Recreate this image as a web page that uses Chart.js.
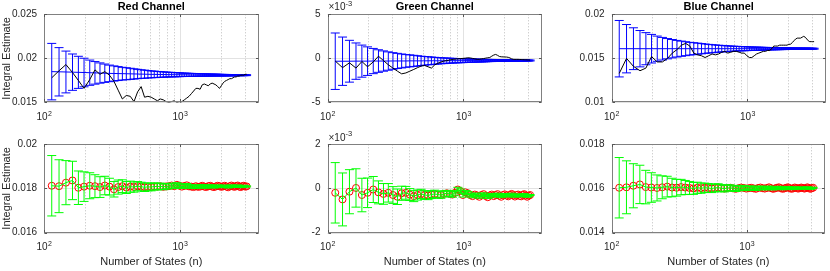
<!DOCTYPE html>
<html>
<head>
<meta charset="utf-8">
<script src="https://cdn.jsdelivr.net/npm/chart.js@4.4.0/dist/chart.umd.min.js"></script>
<style>
  body { margin: 0; background: #fff; }
  #wrap { position: relative; width: 830px; height: 271px; }
  #wrap canvas { position: absolute; left: 0; top: 0; }
</style>
</head>
<body>
<div id="wrap">
  <canvas id="c0" width="830" height="271"></canvas>
  <canvas id="c1" width="830" height="271"></canvas>
  <canvas id="c2" width="830" height="271"></canvas>
  <canvas id="c3" width="830" height="271"></canvas>
  <canvas id="c4" width="830" height="271"></canvas>
  <canvas id="c5" width="830" height="271"></canvas>
</div>
<script>
// number of states (x values, shared by every panel)
const states = [114,129,145,162,179,197,217,237,258,280,303,327,351,377,403,431,459,488,518,549,
  581,614,647,682,717,754,791,829,868,908,949,990,1033,1076,1121,1166,1212,1260,1308,1356,
  1406,1457,1509,1561,1614,1669,1724,1780,1837,1895,1954,2013,2074,2135,2198,2261,2325,2390,2456,2523,
  2591,2659,2729,2799,2871,2943,3016,3090];

// error bar half widths (same in all channels)
const sigmaTop = [0.00320,0.00274,0.00237,0.00206,0.00182,0.00162,0.00143,0.00128,0.00115,0.00104,
  0.00094,0.00086,0.00079,0.00072,0.00068,0.00063,0.00058,0.00053,0.00049,0.00046,
  0.00042,0.00039,0.00037,0.00034,0.00032,0.00030,0.00028,0.00027,0.00025,0.00024,
  0.00023,0.00022,0.00020,0.00019,0.00018,0.00018,0.00017,0.00016,0.00015,0.00015,
  0.00014,0.00013,0.00013,0.00012,0.00012,0.00011,0.00011,0.00010,0.00010,0.000095,
  0.000092,0.000088,0.000085,0.000082,0.000079,0.000076,0.000074,0.000071,0.000069,0.000067,
  0.000064,0.000062,0.000060,0.000059,0.000057,0.000055,0.000053,0.000052];
const sigmaBottom = [0.00137,0.00120,0.00100,0.00087,0.00076,0.00067,0.00059,0.00052,0.00047,0.00042,
  0.00038,0.00035,0.00032,0.00029,0.00027,0.00025,0.00023,0.00021,0.00020,0.00019,
  0.00018,0.00017,0.00016,0.00015,0.00014,0.00013,0.00012,0.00012,0.00011,0.00010,
  0.000097,0.000092,0.000087,0.000083,0.000079,0.000075,0.000072,0.000068,0.000065,0.000062,
  0.000060,0.000057,0.000055,0.000052,0.000050,0.000048,0.000046,0.000044,0.000043,0.000041,
  0.000039,0.000038,0.000037,0.000035,0.000034,0.000033,0.000032,0.000031,0.000030,0.000029,
  0.000028,0.000027,0.000026,0.000025,0.000024,0.000024,0.000023,0.000022];

// top row: error bar centres (blue) and single estimate (black)
const meanRed = [0.01850,0.01848,0.01846,0.01844,0.01842,0.01840,0.01838,0.01836,0.01834,0.01832,
  0.01830,0.01829,0.01828,0.01827,0.01826,0.01825,0.01824,0.01823,0.01822,0.01821,
  0.01820,0.01819,0.01819,0.01818,0.01818,0.01817,0.01817,0.01816,0.01816,0.01815,
  0.01815,0.01815,0.01814,0.01814,0.01814,0.01813,0.01813,0.01813,0.01813,0.01812,
  0.01812,0.01812,0.01812,0.01812,0.01811,0.01811,0.01811,0.01811,0.01811,0.01811,
  0.01810,0.01810,0.01810,0.01810,0.01810,0.01810,0.01810,0.01810,0.01810,0.01810,
  0.01810,0.01810,0.01810,0.01810,0.01810,0.01810,0.01810,0.01810];
const estRed = [0.0178,0.0186,0.0193,0.0184,0.0175,0.0166,0.0176,0.0187,0.0182,0.0185,
  0.0181,0.0174,0.0164,0.0154,0.0158,0.0157,0.0151,0.0162,0.0168,0.0156,
  0.0157,0.0156,0.0154,0.0152,0.0154,0.0153,0.0151,0.0150,0.0151,0.0152,
  0.0150,0.0149,0.0151,0.0153,0.0155,0.0157,0.0160,0.0163,0.0166,0.0166,
  0.0165,0.0170,0.0171,0.0170,0.0169,0.0171,0.0172,0.0171,0.0170,0.0168,
  0.0166,0.0169,0.0172,0.0174,0.0175,0.0176,0.0177,0.0177,0.0178,0.0179,
  0.0179,0.0180,0.0180,0.0181,0.0181,0.0181,0.0182,0.0182];

// green channel values are in units of 1e-3
const meanGreen = [-0.32,-0.32,-0.32,-0.31,-0.31,-0.31,-0.30,-0.30,-0.30,-0.30,
  -0.29,-0.29,-0.29,-0.29,-0.28,-0.28,-0.28,-0.28,-0.28,-0.27,
  -0.27,-0.27,-0.27,-0.27,-0.27,-0.26,-0.26,-0.26,-0.26,-0.26,
  -0.26,-0.26,-0.25,-0.25,-0.25,-0.25,-0.25,-0.25,-0.25,-0.25,
  -0.25,-0.25,-0.24,-0.24,-0.24,-0.24,-0.24,-0.24,-0.24,-0.24,
  -0.24,-0.24,-0.24,-0.24,-0.24,-0.24,-0.24,-0.24,-0.24,-0.24,
  -0.24,-0.24,-0.24,-0.24,-0.24,-0.24,-0.24,-0.24];
const estGreen = [-0.30,-1.05,-0.50,-1.10,-0.35,-0.95,-0.40,0.25,-0.25,-0.72,
  -1.10,-1.45,-1.75,-1.65,-1.45,-1.25,-1.05,-0.87,-0.80,-0.95,
  -1.10,-0.75,-0.55,-0.42,-0.30,-0.25,-0.18,-0.12,-0.08,-0.05,
  -0.02,0.00,0.03,0.07,0.05,0.00,-0.05,-0.10,-0.10,-0.05,
  -0.02,0.03,0.07,0.10,0.25,0.38,0.45,0.35,0.22,0.18,
  0.17,0.16,0.15,0.12,0.05,-0.05,-0.10,-0.11,-0.11,-0.11,
  -0.12,-0.13,-0.14,-0.15,-0.16,-0.17,-0.18,-0.19];

const meanBlue = [0.0161,0.0161,0.0161,0.0161,0.0161,0.0161,0.0161,0.0161,0.0161,0.0161,
  0.0161,0.0161,0.0161,0.0161,0.0161,0.0161,0.0161,0.0161,0.0161,0.0161,
  0.0161,0.0161,0.0161,0.0161,0.0161,0.0161,0.0161,0.0161,0.0161,0.0161,
  0.0161,0.0161,0.0161,0.0161,0.0161,0.0161,0.0161,0.0161,0.0161,0.0161,
  0.0161,0.0161,0.0161,0.0161,0.0161,0.0161,0.0161,0.0161,0.0161,0.0161,
  0.0161,0.0161,0.0161,0.0161,0.0161,0.0161,0.0161,0.0161,0.0161,0.0161,
  0.0161,0.0161,0.0161,0.0161,0.0161,0.0161,0.0161,0.0161];
const estBlue = [0.0133,0.0150,0.0141,0.0136,0.0139,0.0152,0.0146,0.0146,0.0150,0.0156,
  0.0160,0.0165,0.0167,0.0164,0.0156,0.0154,0.0153,0.0151,0.0153,0.0155,
  0.0154,0.0155,0.0157,0.0158,0.0156,0.0157,0.0158,0.0158,0.0157,0.0156,
  0.0156,0.0153,0.0151,0.0151,0.0153,0.0155,0.0156,0.0157,0.0158,0.0158,
  0.0159,0.0159,0.0161,0.0164,0.0164,0.0164,0.0165,0.0165,0.0165,0.0165,
  0.0165,0.0166,0.0166,0.0168,0.0170,0.0172,0.0173,0.0173,0.0173,0.0174,
  0.0175,0.0174,0.0172,0.0170,0.0169,0.0169,0.0169,0.0169];

// bottom row: running estimates (red circles, green error bars)
const runRed = [0.01812,0.01810,0.01826,0.01836,0.01803,0.01808,0.01812,0.01810,0.01806,0.01813,
  0.01808,0.01796,0.01806,0.01810,0.01804,0.01808,0.01806,0.01810,0.01808,0.01805,
  0.01807,0.01806,0.01809,0.01808,0.01810,0.01807,0.01809,0.01810,0.01813,0.01810,
  0.01816,0.01812,0.01808,0.01811,0.01814,0.01809,0.01808,0.01806,0.01810,0.01807,
  0.01808,0.01812,0.01808,0.01806,0.01810,0.01812,0.01808,0.01806,0.01809,0.01812,
  0.01810,0.01807,0.01809,0.01812,0.01808,0.01805,0.01810,0.01813,0.01809,0.01807,
  0.01811,0.01813,0.01808,0.01806,0.01810,0.01812,0.01808,0.01809];
const runGreen = [-0.20,-0.50,-0.15,0.02,-0.30,-0.20,-0.05,-0.18,-0.25,-0.20,
  -0.30,-0.38,-0.22,-0.20,-0.28,-0.35,-0.30,-0.25,-0.30,-0.32,
  -0.28,-0.25,-0.28,-0.30,-0.25,-0.22,-0.25,-0.28,-0.20,-0.05,
  -0.12,-0.30,-0.18,-0.22,-0.30,-0.35,-0.28,-0.32,-0.38,-0.30,
  -0.26,-0.34,-0.40,-0.32,-0.28,-0.35,-0.30,-0.26,-0.33,-0.38,
  -0.30,-0.27,-0.32,-0.36,-0.29,-0.25,-0.31,-0.37,-0.30,-0.28,
  -0.34,-0.36,-0.29,-0.26,-0.32,-0.38,-0.33,-0.30];
const runBlue = [0.01603,0.01605,0.01612,0.01618,0.01606,0.01604,0.01602,0.01605,0.01608,0.01604,
  0.01603,0.01606,0.01604,0.01602,0.01600,0.01603,0.01601,0.01603,0.01602,0.01600,
  0.01602,0.01604,0.01601,0.01599,0.01602,0.01603,0.01600,0.01598,0.01601,0.01604,
  0.01602,0.01599,0.01601,0.01603,0.01600,0.01598,0.01602,0.01604,0.01601,0.01599,
  0.01602,0.01605,0.01601,0.01598,0.01600,0.01603,0.01605,0.01601,0.01598,0.01600,
  0.01603,0.01605,0.01601,0.01598,0.01600,0.01604,0.01602,0.01599,0.01601,0.01604,
  0.01602,0.01599,0.01601,0.01605,0.01602,0.01598,0.01601,0.01603];

const titles = ['Red Channel', 'Green Channel', 'Blue Channel'];
const xTickValues = [100, 1000];
const xTickBase = ['10', '10'];
const xTickPower = ['2', '3'];
const xMinorGrid = [200, 300, 400, 500, 600, 700, 800, 900, 2000, 3000];
const GREEN_UNIT = 1e-3;

// layout of the six axes (pixels)
const plotLefts = [44, 327.5, 611.5];
const plotWidth = 214.5;
const plotTops = [14.3, 144.3];
const plotHeight = 88.2;
const Y_AXIS_W = 44;
const CAP = 4.5;
const FONT = '"Liberation Sans", Arial, Helvetica, sans-serif';

Chart.defaults.font.family = FONT;
Chart.defaults.color = '#262626';

const matlabAxes = {
  id: 'matlabAxes',
  beforeDatasetsDraw(chart) {
    const { ctx, chartArea: a, scales: { x, y } } = chart;
    const p = chart.options.plugins.matlabAxes;
    ctx.save();
    ctx.lineWidth = 1;
    ctx.strokeStyle = '#bdbdbd';
    ctx.setLineDash([1, 2]);
    ctx.beginPath();
    xMinorGrid.forEach(v => {
      const px = Math.round(x.getPixelForValue(v)) + 0.5;
      ctx.moveTo(px, a.top); ctx.lineTo(px, a.bottom);
    });
    ctx.stroke();
    ctx.setLineDash([]);
    ctx.strokeStyle = '#e2e2e2';
    ctx.beginPath();
    xTickValues.forEach(v => {
      const px = Math.round(x.getPixelForValue(v)) + 0.5;
      ctx.moveTo(px, a.top); ctx.lineTo(px, a.bottom);
    });
    p.yTicks.forEach(v => {
      const py = Math.round(y.getPixelForValue(v)) + 0.5;
      ctx.moveTo(a.left, py); ctx.lineTo(a.right, py);
    });
    ctx.stroke();
    ctx.restore();
  },
  afterDatasetDraw(chart, args) {
    const ds = chart.data.datasets[args.index];
    if (!ds.errors) return;
    const { ctx, scales: { x, y } } = chart;
    ctx.save();
    ctx.strokeStyle = ds.borderColor;
    ctx.lineWidth = 1;
    ctx.beginPath();
    ds.data.forEach((pt, i) => {
      const px = x.getPixelForValue(pt.x);
      const top = y.getPixelForValue(pt.y + ds.errors[i]);
      const bot = y.getPixelForValue(pt.y - ds.errors[i]);
      ctx.moveTo(px, top); ctx.lineTo(px, bot);
      ctx.moveTo(px - CAP, top); ctx.lineTo(px + CAP, top);
      ctx.moveTo(px - CAP, bot); ctx.lineTo(px + CAP, bot);
    });
    ctx.stroke();
    ctx.restore();
  },
  afterDraw(chart) {
    const { ctx, chartArea: a, scales: { x, y } } = chart;
    const p = chart.options.plugins.matlabAxes;
    const l = Math.round(a.left) + 0.5, r = Math.round(a.right) - 0.5;
    const t = Math.round(a.top) + 0.5, b = Math.round(a.bottom) - 0.5;
    ctx.save();
    ctx.strokeStyle = '#808080';
    ctx.lineWidth = 1;
    ctx.strokeRect(l, t, r - l, b - t);
    // inward tick marks
    ctx.strokeStyle = '#555';
    ctx.beginPath();
    xTickValues.forEach(v => {
      const px = Math.round(x.getPixelForValue(v)) + 0.5;
      ctx.moveTo(px, b); ctx.lineTo(px, b - 2.5);
      ctx.moveTo(px, t); ctx.lineTo(px, t + 2.5);
    });
    p.yTicks.forEach(v => {
      const py = Math.round(y.getPixelForValue(v)) + 0.5;
      ctx.moveTo(l, py); ctx.lineTo(l + 2.5, py);
      ctx.moveTo(r, py); ctx.lineTo(r - 2.5, py);
    });
    ctx.stroke();

    // x tick labels with raised powers: 10^2, 10^3
    ctx.fillStyle = '#262626';
    ctx.textAlign = 'left';
    ctx.textBaseline = 'alphabetic';
    xTickValues.forEach((v, i) => {
      const px = x.getPixelForValue(v);
      ctx.font = '10px ' + FONT;
      const wb = ctx.measureText(xTickBase[i]).width;
      ctx.font = '7px ' + FONT;
      const wp = ctx.measureText(xTickPower[i]).width;
      const x0 = px - (wb + wp) / 2;
      const base = a.bottom + 17.5;
      ctx.font = '10px ' + FONT;
      ctx.fillText(xTickBase[i], x0, base);
      ctx.font = '7px ' + FONT;
      ctx.fillText(xTickPower[i], x0 + wb + 0.3, base - 4.5);
    });

    ctx.fillStyle = '#000';
    if (p.title) {
      ctx.font = 'bold 11px ' + FONT;
      ctx.textAlign = 'center';
      ctx.fillText(p.title, (a.left + a.right) / 2, a.top - 4);
    }
    if (p.exponent) {
      ctx.fillStyle = '#262626';
      ctx.textAlign = 'left';
      ctx.font = '10px ' + FONT;
      const base = p.row === 0 ? a.top - 4 : a.top - 3.5;
      ctx.fillText('\u00D710', a.left + 1, base);
      const w = ctx.measureText('\u00D710').width;
      ctx.font = '7.5px ' + FONT;
      ctx.fillText('-3', a.left + 1 + w, base - 4.5);
    }
    ctx.restore();
  }
};

const toReal = arr => arr.map(v => v * GREEN_UNIT);
const pts = arr => states.map((n, i) => ({ x: n, y: arr[i] }));

const panels = [
  { row: 0, col: 0, mean: meanRed, est: estRed, yMin: 0.015, yMax: 0.025, yTicks: [0.015, 0.02, 0.025], yLabels: ['0.015', '0.02', '0.025'] },
  { row: 0, col: 1, mean: toReal(meanGreen), est: toReal(estGreen), yMin: -0.005, yMax: 0.005, yTicks: [-0.005, 0, 0.005], yLabels: ['-5', '0', '5'], exponent: true },
  { row: 0, col: 2, mean: meanBlue, est: estBlue, yMin: 0.01, yMax: 0.02, yTicks: [0.01, 0.015, 0.02], yLabels: ['0.01', '0.015', '0.02'] },
  { row: 1, col: 0, est: runRed, yMin: 0.016, yMax: 0.02, yTicks: [0.016, 0.018, 0.02], yLabels: ['0.016', '0.018', '0.02'] },
  { row: 1, col: 1, est: toReal(runGreen), yMin: -0.002, yMax: 0.002, yTicks: [-0.002, 0, 0.002], yLabels: ['-2', '0', '2'], exponent: true },
  { row: 1, col: 2, est: runBlue, yMin: 0.014, yMax: 0.018, yTicks: [0.014, 0.016, 0.018], yLabels: ['0.014', '0.016', '0.018'] }
];

panels.forEach((p, k) => {
  const L = plotLefts[p.col], T = plotTops[p.row];
  const R = L + plotWidth, B = T + plotHeight;
  const HX = p.row === 1 ? 271 - B : 20;
  let datasets;
  if (p.row === 0) {
    datasets = [
      { data: pts(p.est), borderColor: '#000000', borderWidth: 1, pointRadius: 0, tension: 0, order: 1 },
      { data: pts(p.mean), borderColor: '#0000ff', borderWidth: 1, pointRadius: 0, tension: 0, errors: sigmaTop, order: 2 }
    ];
  } else {
    datasets = [
      { data: pts(p.est), borderColor: '#00ff00', borderWidth: 1, pointRadius: 0, tension: 0, errors: sigmaBottom, order: 1 },
      { data: pts(p.est), showLine: false, pointRadius: 3.5, pointBorderWidth: 1, pointBorderColor: '#ff0000', pointBackgroundColor: 'rgba(0,0,0,0)', order: 2 }
    ];
  }
  new Chart(document.getElementById('c' + k), {
    type: 'line',
    data: { datasets },
    plugins: [matlabAxes],
    options: {
      responsive: false,
      animation: false,
      devicePixelRatio: 1,
      layout: { padding: { left: L - Y_AXIS_W, right: 830 - R, top: T, bottom: 271 - B - HX } },
      plugins: {
        legend: { display: false },
        tooltip: { enabled: false },
        matlabAxes: { title: p.row === 0 ? titles[p.col] : '', exponent: !!p.exponent, yTicks: p.yTicks, row: p.row }
      },
      scales: {
        x: {
          type: 'logarithmic',
          min: 100,
          max: 3780,
          afterBuildTicks: s => { s.ticks = xTickValues.map(v => ({ value: v })); },
          afterFit: s => { s.height = HX; },
          grid: { display: false, drawTicks: false },
          border: { display: false },
          ticks: { display: false },
          title: { display: p.row === 1, text: 'Number of States (n)', font: { size: 11 }, padding: { top: 0, bottom: 2.4 } }
        },
        y: {
          type: 'linear',
          min: p.yMin,
          max: p.yMax,
          afterBuildTicks: s => { s.ticks = p.yTicks.map(v => ({ value: v })); },
          afterFit: s => { s.width = Y_AXIS_W; },
          grid: { display: false, drawTicks: false },
          border: { display: false },
          ticks: { padding: 7, font: { size: 10 }, callback: (v, i) => p.yLabels[i] },
          title: { display: p.col === 0, text: 'Integral Estimate', font: { size: 11 }, padding: { top: 0.5, bottom: 0 } }
        }
      }
    }
  });
});
</script>
</body>
</html>
